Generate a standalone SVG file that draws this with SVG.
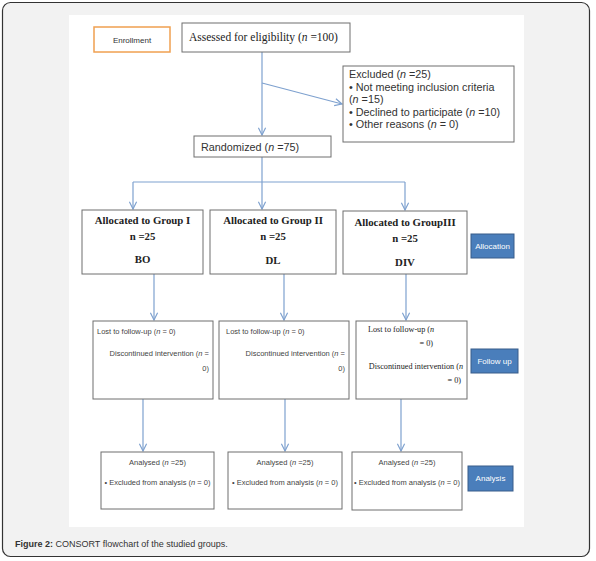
<svg xmlns="http://www.w3.org/2000/svg" width="596" height="561" viewBox="0 0 596 561">
<style>
.box{fill:#fff;stroke:#6e6e6e;stroke-width:1}
.sans{font-family:"Liberation Sans",Arial,sans-serif;fill:#333}
.ser{font-family:"Liberation Serif","Times New Roman",serif;fill:#222}
.cal{font-family:"Liberation Sans",Arial,sans-serif;fill:#444;font-size:7.5px}
.blue{fill:#4a7ebb;stroke:#385d8a;stroke-width:1}
.btxt{font-family:"Liberation Sans",Arial,sans-serif;fill:#fff;font-size:8px;text-anchor:middle}
.con{stroke:#7ea1cf;stroke-width:1.2;fill:none}
</style>
<defs>
<marker id="ah" viewBox="0 0 10 10" refX="9" refY="5" markerWidth="9" markerHeight="9" markerUnits="userSpaceOnUse" orient="auto">
<path d="M1,1 L9,5 L1,9" fill="none" stroke="#7ea1cf" stroke-width="1.3"/>
</marker>
</defs>
<rect x="2.5" y="2.5" width="587" height="554" rx="8" fill="#f2f2f2" stroke="#333" stroke-width="1.2"/>
<rect x="69" y="15" width="455" height="512" fill="#fff"/>

<g id="connectors">
<line class="con" x1="262" y1="52" x2="262" y2="135" marker-end="url(#ah)"/>
<line class="con" x1="262" y1="83" x2="342" y2="104" marker-end="url(#ah)"/>
<line class="con" x1="262" y1="157" x2="262" y2="182"/>
<line class="con" x1="133" y1="182" x2="405" y2="182"/>
<line class="con" x1="133" y1="182" x2="133" y2="209" marker-end="url(#ah)"/>
<line class="con" x1="262" y1="182" x2="262" y2="209" marker-end="url(#ah)"/>
<line class="con" x1="405" y1="182" x2="405" y2="210" marker-end="url(#ah)"/>
<line class="con" x1="154" y1="274" x2="154" y2="320" marker-end="url(#ah)"/>
<line class="con" x1="284" y1="274" x2="284" y2="320" marker-end="url(#ah)"/>
<line class="con" x1="406" y1="274" x2="406" y2="320" marker-end="url(#ah)"/>
<line class="con" x1="143" y1="399" x2="143" y2="451" marker-end="url(#ah)"/>
<line class="con" x1="285" y1="399" x2="285" y2="451" marker-end="url(#ah)"/>
<line class="con" x1="401" y1="399" x2="401" y2="451" marker-end="url(#ah)"/>
</g>

<g id="enrollment">
<rect x="94" y="27" width="76" height="25" fill="#fff" stroke="#f0a050" stroke-width="1.5"/>
<text x="132" y="42.5" class="sans" font-size="8" text-anchor="middle" fill="#555">Enrollment</text>
</g>
<g id="assessed">
<rect class="box" x="182" y="23" width="168" height="29"/>
<text x="189" y="41" class="ser" font-size="11.5">Assessed for eligibility (<tspan font-style="italic">n</tspan> =100)</text>
</g>
<g id="excluded">
<rect class="box" x="343" y="66" width="171" height="76"/>
<g class="sans" font-size="10.8">
<text x="349" y="78">Excluded (<tspan font-style="italic">n</tspan> =25)</text>
<text x="349" y="90.5">• Not meeting inclusion criteria</text>
<text x="349" y="103">(<tspan font-style="italic">n</tspan> =15)</text>
<text x="349" y="115.5">• Declined to participate (<tspan font-style="italic">n</tspan> =10)</text>
<text x="349" y="128">• Other reasons (<tspan font-style="italic">n</tspan> = 0)</text>
</g>
</g>
<g id="randomized">
<rect class="box" x="194" y="136" width="137" height="21"/>
<text x="201" y="150.5" class="sans" font-size="10.8">Randomized (<tspan font-style="italic">n</tspan> =75)</text>
</g>

<g id="group1">
<rect class="box" x="82" y="210" width="121" height="64"/>
<g class="ser" font-size="10.8" font-weight="bold" text-anchor="middle">
<text x="142.5" y="224">Allocated to Group I</text>
<text x="142.5" y="240">n =25</text>
<text x="142.5" y="263">BO</text>
</g>
</g>
<g id="group2">
<rect class="box" x="210" y="210" width="126" height="64"/>
<g class="ser" font-size="10.8" font-weight="bold" text-anchor="middle">
<text x="273" y="224">Allocated to Group II</text>
<text x="273" y="240">n =25</text>
<text x="273" y="264">DL</text>
</g>
</g>
<g id="group3">
<rect class="box" x="343" y="211" width="124" height="63"/>
<g class="ser" font-size="10.8" font-weight="bold" text-anchor="middle">
<text x="405" y="226">Allocated to GroupIII</text>
<text x="405" y="242">n =25</text>
<text x="405" y="266">DIV</text>
</g>
</g>
<g id="allocation">
<rect class="blue" x="471" y="234" width="43" height="24"/>
<text x="492.5" y="248.5" class="btxt">Allocation</text>
</g>

<g id="follow1">
<rect class="box" x="93" y="321" width="120" height="78"/>
<text x="97" y="334" class="cal">Lost to follow-up (<tspan font-style="italic">n</tspan> = 0)</text>
<text x="209" y="356" class="cal" text-anchor="end">Discontinued intervention (<tspan font-style="italic">n</tspan> =</text>
<text x="209" y="371" class="cal" text-anchor="end">0)</text>
</g>
<g id="follow2">
<rect class="box" x="219" y="321" width="130" height="78"/>
<text x="226" y="334" class="cal">Lost to follow-up (<tspan font-style="italic">n</tspan> = 0)</text>
<text x="345" y="356" class="cal" text-anchor="end">Discontinued intervention (<tspan font-style="italic">n</tspan> =</text>
<text x="345" y="371" class="cal" text-anchor="end">0)</text>
</g>
<g id="follow3">
<rect class="box" x="356" y="321" width="111" height="78"/>
<g class="ser" font-size="8.2">
<text x="368" y="332">Lost to follow-up (<tspan font-style="italic">n</tspan></text>
<text x="433" y="346" text-anchor="end">= 0)</text>
<text x="463" y="369" text-anchor="end">Discontinued intervention (<tspan font-style="italic">n</tspan></text>
<text x="461" y="383" text-anchor="end">= 0)</text>
</g>
</g>
<g id="followup">
<rect class="blue" x="471" y="349" width="47" height="24"/>
<text x="494.5" y="363.5" class="btxt">Follow up</text>
</g>

<g id="analysis1">
<rect class="box" x="101" y="452" width="113" height="57"/>
<text x="157.5" y="465" class="cal" text-anchor="middle">Analysed (<tspan font-style="italic">n</tspan> =25)</text>
<text x="157.5" y="485" class="cal" text-anchor="middle">• Excluded from analysis (<tspan font-style="italic">n</tspan> = 0)</text>
</g>
<g id="analysis2">
<rect class="box" x="228" y="452" width="114" height="57"/>
<text x="285" y="465" class="cal" text-anchor="middle">Analysed (<tspan font-style="italic">n</tspan> =25)</text>
<text x="285" y="485" class="cal" text-anchor="middle">• Excluded from analysis (<tspan font-style="italic">n</tspan> = 0)</text>
</g>
<g id="analysis3">
<rect class="box" x="352" y="452" width="110" height="58"/>
<text x="407" y="465" class="cal" text-anchor="middle">Analysed (<tspan font-style="italic">n</tspan> =25)</text>
<text x="407" y="485" class="cal" text-anchor="middle" font-size="7.2">• Excluded from analysis (<tspan font-style="italic">n</tspan> = 0)</text>
</g>
<g id="analysis">
<rect class="blue" x="468" y="466" width="45" height="25"/>
<text x="490.5" y="481" class="btxt">Analysis</text>
</g>

<text x="15" y="547" class="sans" font-size="9" fill="#222"><tspan font-weight="bold">Figure 2:</tspan> CONSORT flowchart of the studied groups.</text>
</svg>
